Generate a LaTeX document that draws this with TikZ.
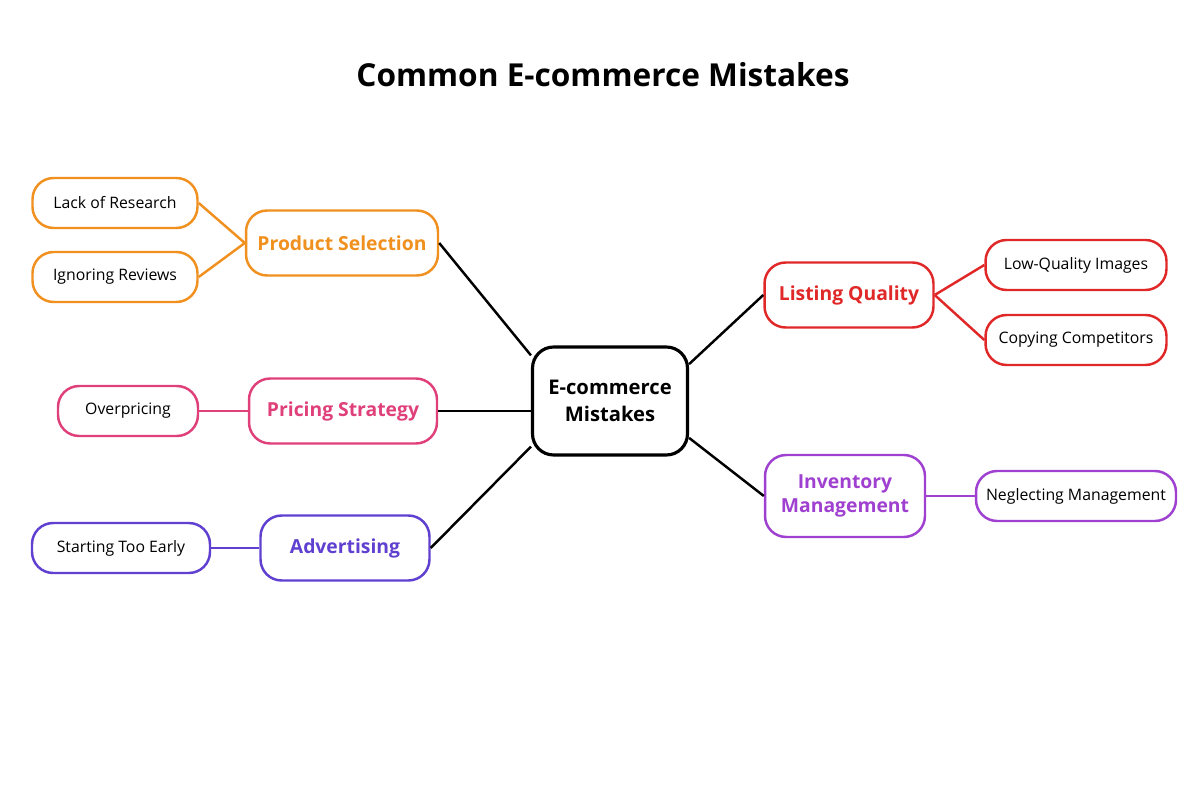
\documentclass[tikz,border=0pt]{standalone}
\usepackage{fontspec}
\setmainfont{Open Sans}
\definecolor{cor}{HTML}{F0901E}
\definecolor{cpk}{HTML}{E0407A}
\definecolor{cbl}{HTML}{6040D0}
\definecolor{crd}{HTML}{E02828}
\definecolor{cpu}{HTML}{A040D0}
\begin{document}
\begin{tikzpicture}[x=0.02cm,y=-0.02cm,
  box/.style={draw, rounded corners=12pt, line width=1.4pt, fill=white, align=center, inner sep=0pt},
  cat/.style={box, text=#1, draw=#1, font=\fontsize{11}{14}\selectfont\bfseries, minimum height=1.3cm},
  leaf/.style={box, draw=#1, font=\fontsize{9}{11}\selectfont, minimum height=1cm},
  ln/.style={line width=1.4pt, draw=#1}]
\useasboundingbox (0,0) rectangle (1200,800);
\node[font=\fontsize{18}{22}\selectfont\bfseries] (t) at (603,75) {Common E-commerce Mistakes};
\node[box, line width=1.8pt, minimum width=3.1cm, minimum height=2.16cm, font=\fontsize{11.5}{15}\selectfont\bfseries] (c) at (610,401) {E-commerce\\Mistakes};
\node[cat=cor, minimum width=3.84cm] (ps) at (342,243) {Product Selection};
\node[leaf=cor, minimum width=3.3cm] (lr) at (115,203) {Lack of Research};
\node[leaf=cor, minimum width=3.3cm] (ir) at (115,277) {Ignoring Reviews};
\node[cat=cpk, minimum width=3.76cm] (pr) at (343,411) {Pricing Strategy};
\node[leaf=cpk, minimum width=2.8cm] (op) at (128,411) {Overpricing};
\node[cat=cbl, minimum width=3.38cm] (ad) at (345,548) {Advertising};
\node[leaf=cbl, minimum width=3.56cm] (st) at (121,548) {Starting Too Early};
\node[cat=crd, minimum width=3.38cm] (lq) at (849,295) {Listing Quality};
\node[leaf=crd, minimum width=3.62cm] (li) at (1076,265) {Low-Quality Images};
\node[leaf=crd, minimum width=3.62cm] (cc) at (1076,340) {Copying Competitors};
\node[cat=cpu, minimum width=3.2cm, minimum height=1.64cm] (im) at (845,496) {Inventory\\Management};
\node[leaf=cpu, minimum width=4cm] (nm) at (1076,496) {Neglecting Management};
\draw[ln=black] (c.150) -- (ps.east);
\draw[ln=black] (pr.east -| c.west) -- (pr.east);
\draw[ln=black] (c.210) -- (ad.east);
\draw[ln=black] (c.25) -- (lq.west);
\draw[ln=black] (c.-25) -- (im.west);
\draw[ln=cor] (lr.east) -- (ps.west);
\draw[ln=cor] (ir.east) -- (ps.west);
\draw[ln=cpk] (op.east) -- (pr.west);
\draw[ln=cbl] (st.east) -- (ad.west);
\draw[ln=crd] (lq.east) -- (li.west);
\draw[ln=crd] (lq.east) -- (cc.west);
\draw[ln=cpu] (im.east) -- (nm.west);
\end{tikzpicture}
\end{document}
